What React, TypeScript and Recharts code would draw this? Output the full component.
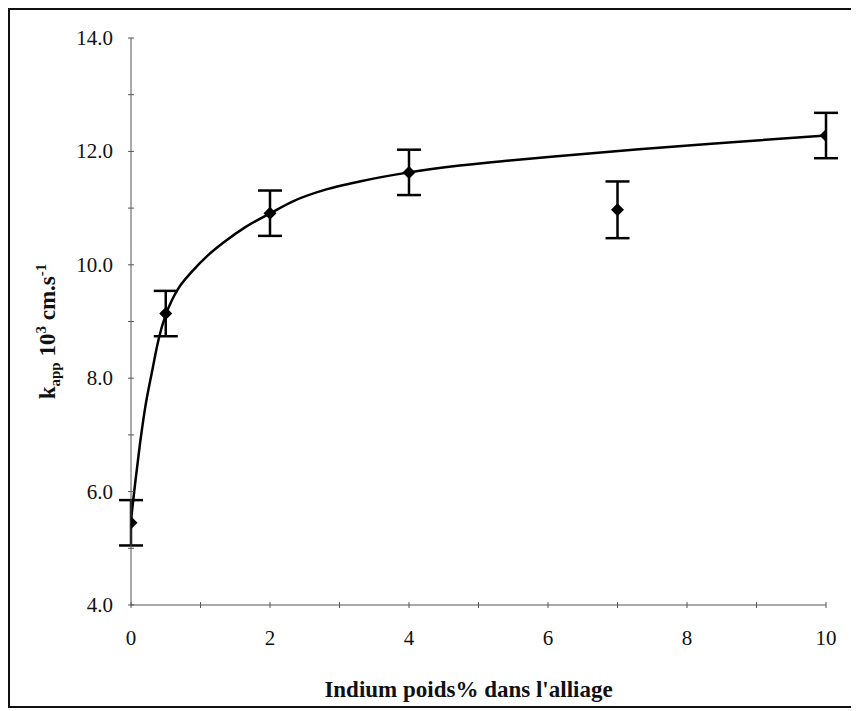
import React from 'react';
import { ComposedChart, Line, Scatter, ErrorBar, XAxis, YAxis, Label } from 'recharts';

// Measured points
const indium = [0, 0.5, 2, 4, 7, 10];
const kapp = [5.45, 9.14, 10.91, 11.63, 10.97, 12.28];
const kappErr = [0.4, 0.4, 0.4, 0.4, 0.5, 0.4];

// Fitted curve
const curveX = [0, 0.06, 0.13, 0.2, 0.3, 0.4, 0.5, 0.59, 0.68, 0.87, 1.11, 1.35, 1.64, 2.02, 2.33, 2.81, 3.29, 4.0, 4.73, 5.45, 6.17, 7.31, 8.75, 10];
const curveY = [5.5, 6.15, 6.85, 7.45, 8.1, 8.7, 9.12, 9.38, 9.58, 9.87, 10.17, 10.41, 10.66, 10.92, 11.12, 11.33, 11.47, 11.63, 11.75, 11.84, 11.92, 12.04, 12.17, 12.28];

const xTicks = [0, 1, 2, 3, 4, 5, 6, 7, 8, 9, 10];
const yTicks = [4, 5, 6, 7, 8, 9, 10, 11, 12, 13, 14];

const points = indium.map((x, i) => ({ x, y: kapp[i], err: kappErr[i] }));
const curve = curveX.map((x, i) => ({ x, y: curveY[i] }));

const FONT = '"Liberation Serif", "Times New Roman", Tinos, "DejaVu Serif", serif';
const AXIS = '#555';
const txt = { fontFamily: FONT };

const XTick = (props: any) => {
  const { x, y, payload } = props;
  const v = payload.value;
  return (
    <g>
      <line x1={x} x2={x} y1={y - 3} y2={y + 3} stroke={AXIS} strokeWidth={1} />
      {v % 2 === 0 && (
        <text x={x} y={y + 40} textAnchor="middle" style={txt} fontSize={21} fill="#111">
          {v}
        </text>
      )}
    </g>
  );
};

const YTick = (props: any) => {
  const { x, y, payload } = props;
  const v = payload.value;
  return (
    <g>
      <line x1={x - 3} x2={x + 3} y1={y} y2={y} stroke={AXIS} strokeWidth={1} />
      {v % 2 === 0 && (
        <text x={x - 18} y={y + 7} textAnchor="end" style={txt} fontSize={21} fill="#111">
          {v.toFixed(1)}
        </text>
      )}
    </g>
  );
};

const Diamond = (props: any) => {
  const { cx, cy } = props;
  const r = 6.5;
  return <polygon points={`${cx},${cy - r} ${cx + r},${cy} ${cx},${cy + r} ${cx - r},${cy}`} fill="#000" />;
};

const XTitle = (props: any) => {
  const vb = props.viewBox || {};
  const cx = vb.x + vb.width / 2 - 10;
  const cy = vb.y + 92;
  return (
    <text x={cx} y={cy} textAnchor="middle" style={txt} fontWeight="bold" fontSize={23} fill="#111">
      Indium poids% dans l'alliage
    </text>
  );
};

const YTitle = (props: any) => {
  const vb = props.viewBox || {};
  const cx = 45;
  const cy = vb.y + vb.height / 2 + 10;
  return (
    <text
      x={cx}
      y={cy}
      textAnchor="middle"
      style={txt}
      fontWeight="bold"
      fontSize={23}
      fill="#111"
      transform={`rotate(-90, ${cx}, ${cy})`}
    >
      <tspan>k</tspan>
      <tspan fontSize={15} dy={5}>app</tspan>
      <tspan dy={-5}> 10</tspan>
      <tspan fontSize={15} dy={-9}>3</tspan>
      <tspan dy={9}> cm.s</tspan>
      <tspan fontSize={15} dy={-9}>-1</tspan>
    </text>
  );
};

export default function App() {
  return (
    <div
      style={{
        width: 849,
        height: 700,
        border: '2px solid #111',
        boxSizing: 'border-box',
        background: '#fff',
        position: 'relative',
        fontFamily: FONT,
      }}
    >
      <ComposedChart width={845} height={696} margin={{ top: 28, right: 29, bottom: 0, left: 0 }}>
        <XAxis
          type="number"
          dataKey="x"
          domain={[0, 10]}
          ticks={xTicks}
          interval={0}
          height={101}
          tickSize={0}
          tickMargin={0}
          tickLine={false}
          tick={<XTick />}
          axisLine={{ stroke: AXIS, strokeWidth: 1 }}
          allowDataOverflow
        >
          <Label content={<XTitle />} />
        </XAxis>
        <YAxis
          type="number"
          dataKey="y"
          domain={[4, 14]}
          ticks={yTicks}
          interval={0}
          width={121}
          tickSize={0}
          tickMargin={0}
          tickLine={false}
          tick={<YTick />}
          axisLine={{ stroke: AXIS, strokeWidth: 1 }}
          allowDataOverflow
        >
          <Label content={<YTitle />} />
        </YAxis>
        <Line
          data={curve}
          dataKey="y"
          type="monotone"
          stroke="#000"
          strokeWidth={2.5}
          dot={false}
          activeDot={false}
          isAnimationActive={false}
        />
        <Scatter data={points} dataKey="y" shape={<Diamond />} isAnimationActive={false}>
          <ErrorBar dataKey="err" direction="y" width={12} stroke="#000" strokeWidth={2.5} />
        </Scatter>
      </ComposedChart>
    </div>
  );
}
